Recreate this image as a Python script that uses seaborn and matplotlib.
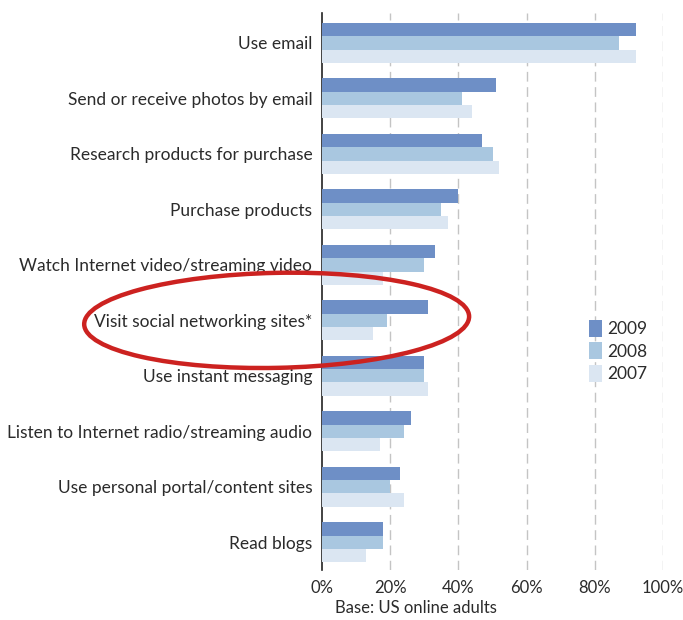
import matplotlib
matplotlib.use("Agg")
import matplotlib.pyplot as plt
from matplotlib.patches import Ellipse
import pandas as pd
import seaborn as sns

activities = [
    "Use email",
    "Send or receive photos by email",
    "Research products for purchase",
    "Purchase products",
    "Watch Internet video/streaming video",
    "Visit social networking sites*",
    "Use instant messaging",
    "Listen to Internet radio/streaming audio",
    "Use personal portal/content sites",
    "Read blogs",
]
years = ["2009", "2008", "2007"]
pct_2009 = [92, 51, 47, 40, 33, 31, 30, 26, 23, 18]
pct_2008 = [87, 41, 50, 35, 30, 19, 30, 24, 20, 18]
pct_2007 = [92, 44, 52, 37, 18, 15, 31, 17, 24, 13]
x_ticks = [0, 20, 40, 60, 80, 100]
x_tick_labels = ["0%", "20%", "40%", "60%", "80%", "100%"]

df = pd.DataFrame({
    "activity": activities * 3,
    "year": [y for y in years for _ in activities],
    "pct": pct_2009 + pct_2008 + pct_2007,
})

sns.set_style("white")
plt.rcParams["font.family"] = ["Lato", "DejaVu Sans"]

palette = {"2009": "#6e8fc6", "2008": "#a9c7e0", "2007": "#dbe6f2"}

fig = plt.figure(figsize=(6.83, 6.20), dpi=100)
ax = fig.add_axes([322 / 683, 1 - 570 / 620, 341 / 683, 557 / 620])

sns.barplot(data=df, y="activity", x="pct", hue="year", hue_order=years,
            order=activities, palette=palette, orient="h", width=0.72,
            gap=0, saturation=1, linewidth=0, ax=ax, zorder=3)

ax.set_xlim(0, 100)
ax.set_ylim(9.5, -0.54)
ax.set_xticks(x_ticks)
ax.set_xticklabels(x_tick_labels)
ax.set_xlabel("")
ax.set_ylabel("")
ax.tick_params(axis="both", length=0, colors="#2b2b2b")
ax.tick_params(axis="y", pad=7, labelsize=12.5)
ax.tick_params(axis="x", pad=7, labelsize=12)

for x in x_ticks[1:]:
    ax.axvline(x, color="#c4c4c4", linewidth=1.0, linestyle=(0, (7, 4)), zorder=1)

for side in ["top", "right", "bottom"]:
    ax.spines[side].set_visible(False)
ax.spines["left"].set_color("#222222")
ax.spines["left"].set_linewidth(1.2)

handles, labels = ax.get_legend_handles_labels()
ax.legend(handles, labels, loc="center left", bbox_to_anchor=(573 / 683, 1 - 351 / 620),
          bbox_transform=fig.transFigure, frameon=False, fontsize=12.5,
          handlelength=0.75, handleheight=1.15, handletextpad=0.3,
          labelspacing=0.3, labelcolor="#2b2b2b")

fig.text(335 / 683, 1 - 608 / 620, "Base: US online adults", fontsize=12,
         color="#2b2b2b", ha="left", va="center")

# red ring around the social networking row
fig.canvas.draw()
cx, cy = ax.transData.transform((-13.3, 5.0))
ring = Ellipse((cx / fig.dpi, cy / fig.dpi), width=3.85, height=0.95, angle=1.2,
               transform=fig.dpi_scale_trans, fill=False, edgecolor="#cc2220",
               linewidth=3.2, zorder=10)
fig.add_artist(ring)

fig.savefig("out.png", dpi=100)
